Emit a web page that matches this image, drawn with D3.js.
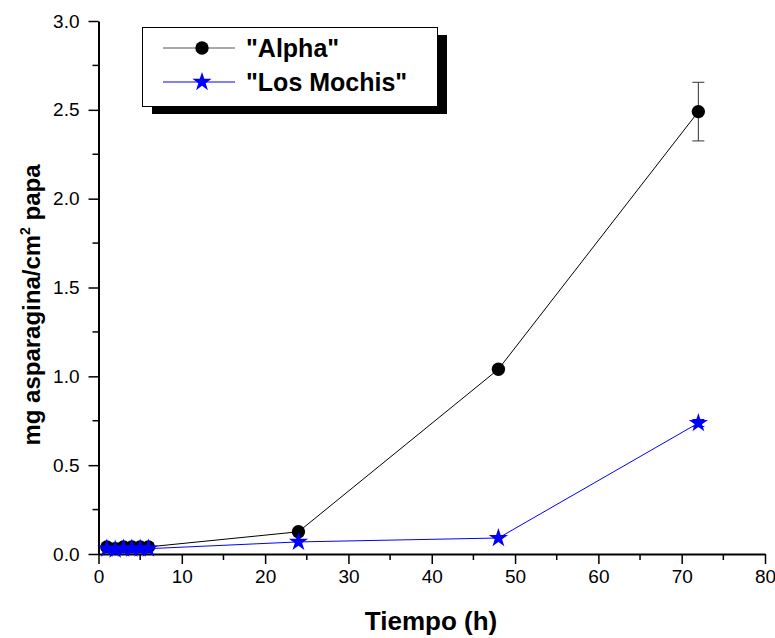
<!DOCTYPE html>
<html>
<head>
<meta charset="utf-8">
<script src="https://cdn.jsdelivr.net/npm/d3@7"></script>
<style>
  body { margin: 0; background: #fff; }
  svg { display: block; font-family: Arial, "Liberation Sans", sans-serif; }
</style>
</head>
<body>
<svg id="chart" width="775" height="638"></svg>
<script>
// Asparagine content over time for two potato varieties
const hours = [1, 2, 3, 4, 5, 6, 24, 48, 72];
const alphaValues = [0.04, 0.03, 0.04, 0.04, 0.04, 0.04, 0.125, 1.04, 2.49];
const alphaErrors = [0, 0, 0, 0, 0, 0, 0, 0, 0.165];
const mochisValues = [0.03, 0.025, 0.03, 0.03, 0.03, 0.03, 0.068, 0.09, 0.737];
const mochisErrors = [0, 0, 0, 0, 0, 0, 0, 0, 0.02];
const xTicks = [0, 10, 20, 30, 40, 50, 60, 70, 80];
const yTicks = [0.0, 0.5, 1.0, 1.5, 2.0, 2.5, 3.0];
const seriesNames = ['"Alpha"', '"Los Mochis"'];

const svg = d3.select("#chart");
const x = d3.scaleLinear().domain([0, 80]).range([98.5, 765]);
const y = d3.scaleLinear().domain([0, 3]).range([554, 21]);

// Axes: major ticks outward, minor ticks in between
const xMinor = d3.range(5, 80, 10);
const yMinor = d3.range(0.25, 3, 0.5);

const gx = svg.append("g").attr("transform", `translate(0,${y(0)})`);
gx.call(d3.axisBottom(x).tickValues(xTicks).tickFormat(d3.format("d"))
  .tickSize(10).tickPadding(6).tickSizeOuter(0));
gx.append("g").selectAll("line").data(xMinor).join("line")
  .attr("x1", d => x(d)).attr("x2", d => x(d)).attr("y1", 0).attr("y2", 6)
  .attr("stroke", "#000").attr("stroke-width", 1.5);

const gy = svg.append("g").attr("transform", `translate(${x(0)},0)`);
gy.call(d3.axisLeft(y).tickValues(yTicks).tickFormat(d3.format(".1f"))
  .tickSize(10).tickPadding(9).tickSizeOuter(0));
gy.append("g").selectAll("line").data(yMinor).join("line")
  .attr("x1", 0).attr("x2", -6).attr("y1", d => y(d)).attr("y2", d => y(d))
  .attr("stroke", "#000").attr("stroke-width", 1.5);

[gx, gy].forEach(g => {
  g.select(".domain").attr("stroke", "#000").attr("stroke-width", 2);
  g.selectAll(".tick line").attr("stroke", "#000").attr("stroke-width", 1.5);
  g.selectAll(".tick text").attr("font-size", 19).attr("fill", "#000")
    .attr("font-family", "Arial, 'Liberation Sans', sans-serif");
});

// Axis titles
svg.append("text").attr("x", 431).attr("y", 630).attr("text-anchor", "middle")
  .attr("font-size", 26).attr("font-weight", "bold").text("Tiempo (h)");

const yt = svg.append("text").attr("transform", "translate(40,305) rotate(-90)")
  .attr("text-anchor", "middle").attr("font-size", 24).attr("font-weight", "bold");
yt.append("tspan").text("mg asparagina/cm");
yt.append("tspan").attr("font-size", 14).attr("dy", -10).text("2");
yt.append("tspan").attr("dy", 10).text(" papa");

// Series
const series = [
  { name: seriesNames[0], values: alphaValues, errors: alphaErrors, color: "#000", symbol: d3.symbolCircle, size: 140 },
  { name: seriesNames[1], values: mochisValues, errors: mochisErrors, color: "#0000ff", symbol: d3.symbolStar, size: 115 }
];

const line = d3.line().x(d => x(d[0])).y(d => y(d[1]));

series.forEach(s => {
  const pts = hours.map((h, i) => [h, s.values[i], s.errors[i]]);
  const ebColor = s.color === "#000" ? "#333" : s.color;
  svg.append("path").datum(pts).attr("d", line)
    .attr("fill", "none").attr("stroke", s.color).attr("stroke-width", 1);
  const eb = svg.append("g");
  pts.filter(p => p[2] > 0).forEach(p => {
    const cx = x(p[0]);
    eb.append("line").attr("x1", cx).attr("x2", cx).attr("y1", y(p[1] - p[2])).attr("y2", y(p[1] + p[2]))
      .attr("stroke", ebColor).attr("stroke-width", 1);
    [p[1] - p[2], p[1] + p[2]].forEach(v => {
      eb.append("line").attr("x1", cx - 6).attr("x2", cx + 6).attr("y1", y(v)).attr("y2", y(v))
        .attr("stroke", ebColor).attr("stroke-width", 1);
    });
  });
  svg.append("g").selectAll("path").data(pts).join("path")
    .attr("d", d3.symbol().type(s.symbol).size(s.size))
    .attr("transform", d => `translate(${x(d[0])},${y(d[1])})`)
    .attr("fill", s.color);
});

// Legend with drop shadow
const lg = svg.append("g");
lg.append("rect").attr("x", 152).attr("y", 35).attr("width", 295).attr("height", 79).attr("fill", "#000");
lg.append("rect").attr("x", 142.5).attr("y", 27.5).attr("width", 295).attr("height", 79)
  .attr("fill", "#fff").attr("stroke", "#000").attr("stroke-width", 1);
series.forEach((s, i) => {
  const ly = 48 + i * 34;
  lg.append("line").attr("x1", 163).attr("x2", 235).attr("y1", ly).attr("y2", ly)
    .attr("stroke", s.color === "#000" ? "#555" : s.color).attr("stroke-width", 1);
  lg.append("path").attr("d", d3.symbol().type(s.symbol).size(s.size)())
    .attr("transform", `translate(202,${ly})`).attr("fill", s.color);
  lg.append("text").attr("x", 246).attr("y", ly + 9).attr("font-size", 25).attr("font-weight", "bold")
    .text(s.name);
});
</script>
</body>
</html>
